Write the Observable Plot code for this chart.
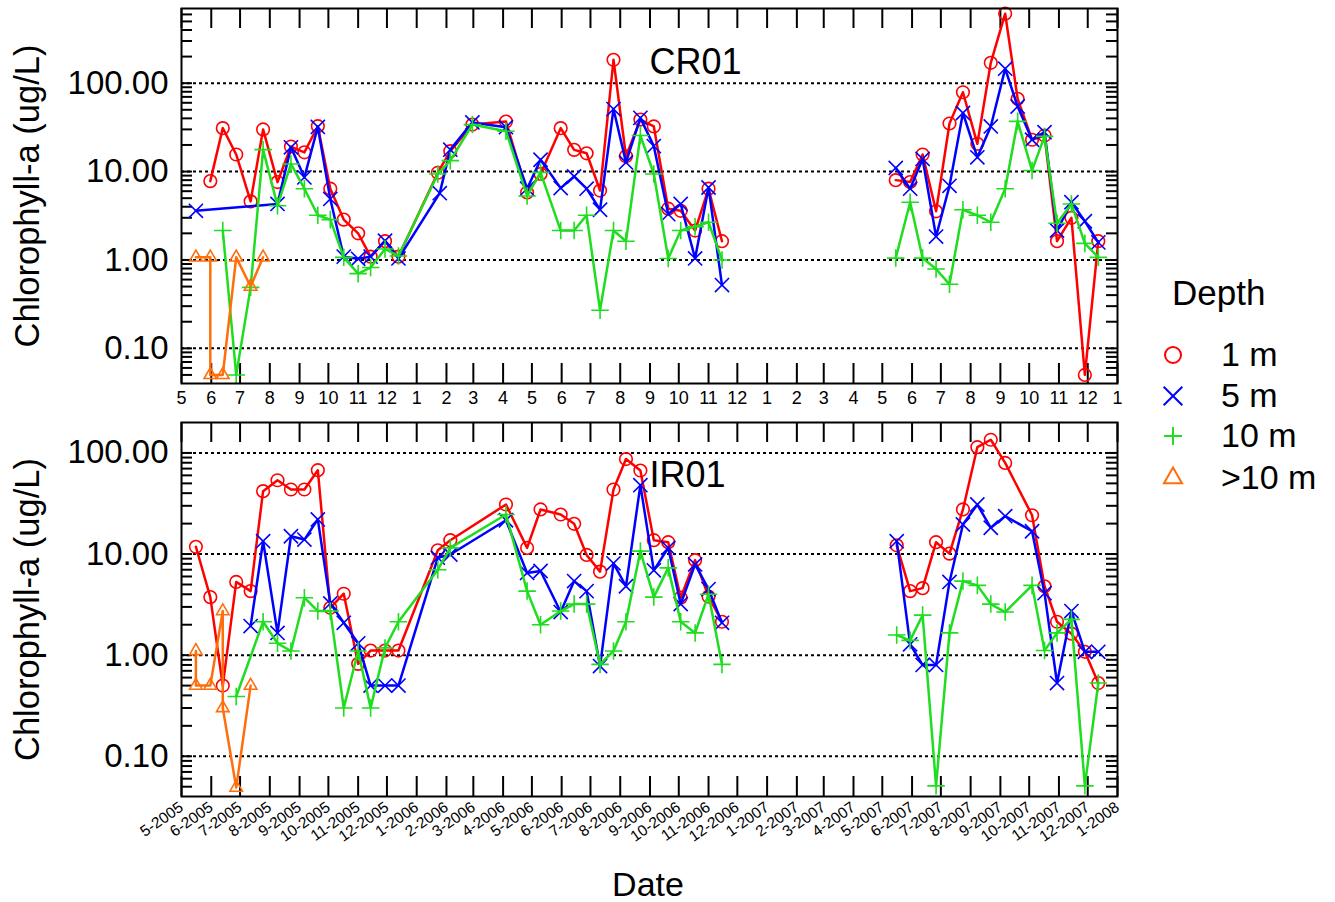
<!DOCTYPE html>
<html><head><meta charset="utf-8">
<script src="https://cdn.jsdelivr.net/npm/d3@7"></script>
<script src="https://cdn.jsdelivr.net/npm/@observablehq/plot@0.6"></script>
<style>
body{margin:0;background:#fff;font-family:"Liberation Sans",Arial,Helvetica,sans-serif;}
#wrap{position:relative;width:1335px;height:902px;overflow:hidden;background:#fff}
.panel{position:absolute;left:0}
</style></head><body><div id="wrap"></div>
<script>
// ---------- data ----------
const depthNames = ["1 m", "5 m", "10 m", ">10 m"];
const depthColors = ["#ff0000", "#0000ff", "#1fdd1f", "#ff6e0a"];
const yTickValues = [0.1, 1, 10, 100];

const cr01_1m = [["2005-05-31",7.8],["2005-06-13",31],["2005-06-27",15.6],["2005-07-12",4.6],["2005-07-25",30],["2005-08-09",7.6],["2005-08-23",19.2],["2005-09-06",16.5],["2005-09-20",32.6],["2005-10-03",6.4],["2005-10-17",2.86],["2005-11-01",2.0],["2005-11-14",1.09],["2005-11-29",1.63],["2005-12-13",1.09],["2006-01-23",9.7],["2006-02-05",17],["2006-02-28",34],["2006-04-04",36.8],["2006-04-26",5.8],["2006-05-10",9.4],["2006-05-31",31],["2006-06-14",17.6],["2006-06-27",16.1],["2006-07-11",6.1],["2006-07-25",184],["2006-08-07",14.9],["2006-08-22",38.8],["2006-09-05",32.4],["2006-09-20",3.8],["2006-10-03",3.6],["2006-10-18",2.15],["2006-11-01",6.4],["2006-11-15",1.63],["2007-05-15",8.0],["2007-05-30",7.6],["2007-06-12",15.6],["2007-06-26",3.55],["2007-07-10",35],["2007-07-24",79],["2007-08-08",20.6],["2007-08-22",170],["2007-09-06",611],["2007-09-19",66.5],["2007-10-04",22.9],["2007-10-17",25.6],["2007-10-30",1.63],["2007-11-14",3.0],["2007-11-28",0.05],["2007-12-12",1.63]];
const cr01_5m = [["2005-05-16",3.6],["2005-08-09",4.3],["2005-08-23",18.8],["2005-09-06",8.6],["2005-09-20",32],["2005-10-03",4.9],["2005-10-17",1.09],["2005-11-01",1.03],["2005-11-14",1.09],["2005-11-29",1.65],["2005-12-13",1.04],["2006-01-25",5.7],["2006-02-05",17.7],["2006-02-28",36],["2006-04-04",31.8],["2006-04-26",6.4],["2006-05-10",13.6],["2006-05-31",6.5],["2006-06-14",8.8],["2006-06-27",6.4],["2006-07-11",3.7],["2006-07-25",51],["2006-08-07",12.7],["2006-08-22",40.5],["2006-09-05",19.4],["2006-09-20",3.3],["2006-10-03",4.3],["2006-10-18",1.04],["2006-11-01",6.6],["2006-11-15",0.52],["2007-05-15",11],["2007-05-30",6.4],["2007-06-12",13.9],["2007-06-26",1.84],["2007-07-10",6.9],["2007-07-24",46],["2007-08-08",14.5],["2007-08-22",32.4],["2007-09-06",146],["2007-09-19",54.5],["2007-10-04",22.9],["2007-10-17",27.9],["2007-10-30",2.15],["2007-11-14",4.5],["2007-11-28",2.74],["2007-12-12",1.58]];
const cr01_10m = [["2005-06-13",2.15],["2005-06-27",0.05],["2005-07-12",0.49],["2005-07-25",17.7],["2005-08-09",4.1],["2005-08-23",12.2],["2005-09-06",6.4],["2005-09-20",3.2],["2005-10-03",2.86],["2005-10-17",1.07],["2005-11-01",0.70],["2005-11-14",0.82],["2005-11-29",1.33],["2005-12-13",1.11],["2006-01-23",9.4],["2006-02-05",13.3],["2006-02-28",34],["2006-04-04",28.6],["2006-04-26",5.3],["2006-05-10",9.8],["2006-05-31",2.15],["2006-06-14",2.15],["2006-06-27",3.2],["2006-07-11",0.27],["2006-07-25",2.15],["2006-08-07",1.63],["2006-08-22",25.6],["2006-09-05",9.4],["2006-09-20",1.04],["2006-10-03",2.15],["2006-10-18",2.38],["2006-11-01",2.67],["2006-11-15",1.0],["2007-05-15",1.05],["2007-05-30",4.5],["2007-06-12",1.05],["2007-06-26",0.79],["2007-07-10",0.53],["2007-07-24",3.7],["2007-08-08",3.2],["2007-08-22",2.67],["2007-09-06",6.4],["2007-09-19",37],["2007-10-04",10.3],["2007-10-17",25],["2007-10-30",2.6],["2007-11-14",4.3],["2007-11-28",1.54],["2007-12-12",1.07]];
const cr01_deep = [["2005-05-16",1.07],["2005-05-31",1.07],["2005-05-31",0.05],["2005-06-13",0.05],["2005-06-27",1.07],["2005-07-12",0.5],["2005-07-25",1.07]];

const ir01_1m = [["2005-05-16",11.8],["2005-05-31",3.75],["2005-06-13",0.50],["2005-06-27",5.3],["2005-07-12",4.3],["2005-07-25",41.9],["2005-08-09",53.7],["2005-08-23",43.5],["2005-09-06",43.5],["2005-09-20",67.5],["2005-10-03",2.94],["2005-10-17",4.05],["2005-11-01",0.82],["2005-11-14",1.11],["2005-11-29",1.11],["2005-12-13",1.11],["2006-01-23",10.9],["2006-02-05",13.7],["2006-04-04",30.9],["2006-04-26",11.5],["2006-05-10",27.6],["2006-05-31",24.6],["2006-06-14",19.9],["2006-06-27",9.8],["2006-07-11",6.7],["2006-07-25",43.5],["2006-08-07",87],["2006-08-22",67],["2006-09-05",13.7],["2006-09-20",13.1],["2006-10-03",3.7],["2006-10-18",8.7],["2006-11-01",3.8],["2006-11-15",2.14],["2007-05-16",12.2],["2007-05-30",4.3],["2007-06-12",4.6],["2007-06-26",13.1],["2007-07-10",10.1],["2007-07-24",27.6],["2007-08-08",114],["2007-08-22",135],["2007-09-06",79.7],["2007-10-04",24.2],["2007-10-17",4.8],["2007-10-30",2.14],["2007-11-14",1.63],["2007-11-28",1.08],["2007-12-12",0.53]];
const ir01_5m = [["2005-07-12",1.94],["2005-07-25",13.4],["2005-08-09",1.66],["2005-08-23",15.0],["2005-09-06",13.9],["2005-09-20",22],["2005-10-03",3.25],["2005-10-17",2.09],["2005-11-01",1.31],["2005-11-14",0.50],["2005-11-29",0.50],["2005-12-13",0.50],["2006-01-23",9.2],["2006-02-05",9.9],["2006-04-04",21.6],["2006-04-26",6.5],["2006-05-10",6.8],["2006-05-31",2.67],["2006-06-14",5.4],["2006-06-27",4.3],["2006-07-11",0.78],["2006-07-25",8.1],["2006-08-07",4.8],["2006-08-22",48],["2006-09-05",6.9],["2006-09-20",11.5],["2006-10-03",3.2],["2006-10-18",7.9],["2006-11-01",4.5],["2006-11-15",2.09],["2007-05-16",13.4],["2007-05-30",1.28],["2007-06-12",0.80],["2007-06-26",0.80],["2007-07-10",5.3],["2007-07-24",19.6],["2007-08-08",30.9],["2007-08-22",18.2],["2007-09-06",23.7],["2007-10-04",16.8],["2007-10-17",4.1],["2007-10-30",0.53],["2007-11-14",2.73],["2007-11-28",1.08],["2007-12-12",1.08]];
const ir01_10m = [["2005-06-27",0.39],["2005-07-25",2.14],["2005-08-09",1.31],["2005-08-23",1.10],["2005-09-06",3.7],["2005-09-20",2.73],["2005-10-03",2.73],["2005-10-17",0.30],["2005-11-01",1.10],["2005-11-14",0.30],["2005-11-29",1.18],["2005-12-13",2.14],["2006-01-23",7.0],["2006-02-05",11.5],["2006-04-04",24.6],["2006-04-26",4.3],["2006-05-10",2.0],["2006-05-31",2.73],["2006-06-14",3.2],["2006-06-27",3.2],["2006-07-11",0.81],["2006-07-25",1.10],["2006-08-07",2.14],["2006-08-22",10.7],["2006-09-05",3.75],["2006-09-20",7.3],["2006-10-03",2.14],["2006-10-18",1.66],["2006-11-01",4.0],["2006-11-15",0.81],["2007-05-16",1.58],["2007-05-30",1.40],["2007-06-12",2.49],["2007-06-26",0.051],["2007-07-10",1.66],["2007-07-24",5.4],["2007-08-08",4.9],["2007-08-22",3.2],["2007-09-06",2.67],["2007-10-04",4.9],["2007-10-17",1.11],["2007-10-30",1.66],["2007-11-14",2.26],["2007-11-28",0.051],["2007-12-12",0.53]];
const ir01_deep = [["2005-05-16",1.10],["2005-05-16",0.50],["2005-05-31",0.50],["2005-06-13",2.73],["2005-06-13",0.30],["2005-06-27",0.049],["2005-07-12",0.50]];

// ---------- helpers ----------
const FONT = '"Liberation Sans", Arial, Helvetica, sans-serif';
const xDomain = [new Date("2005-05-01"), new Date("2008-01-01")];
const months = d3.utcMonth.range(xDomain[0], new Date("2008-01-02"));
const FRAME_W = 936;
const xAt = px => new Date(+xDomain[0] + (xDomain[1] - xDomain[0]) * px / FRAME_W);
const toRows = arr => arr.map(([d, v]) => ({date: new Date(d), value: v, seg: d < "2007" ? 0 : 1}));
const symbols = ["circle", "times", "plus", "triangle2"];
const symR = [6.3, 6.5, 5.7, 6];

function makePanel(cfg) {
  const H = cfg.height - cfg.marginTop - cfg.marginBottom;
  const [y0, y1] = cfg.yDomain;
  const yAt = px => y0 * Math.pow(y1 / y0, px / H);
  const minor = [];
  for (let k = -2; k <= 3; k++) for (let m = 1; m <= 9; m++) {
    const v = m * Math.pow(10, k);
    if (v > y0 * 1.001 && v < y1 * 0.995) minor.push(v);
  }
  const marks = [
    Plot.ruleY(yTickValues, {y: d => d, stroke: "#000", strokeWidth: 2, strokeDasharray: "3,3"}),
    Plot.ruleX(months, {x: d => d, y1: () => y0, y2: () => yAt(20), stroke: "#000", strokeWidth: 2}),
    Plot.ruleX(months, {x: d => d, y1: () => yAt(H - 20), y2: () => y1, stroke: "#000", strokeWidth: 2}),
    Plot.ruleY(minor, {y: d => d, x1: () => xDomain[0], x2: () => xAt(11), stroke: "#000", strokeWidth: 2}),
    Plot.ruleY(minor, {y: d => d, x1: () => xAt(FRAME_W - 11), x2: () => xDomain[1], stroke: "#000", strokeWidth: 2})
  ];
  cfg.series.forEach((s, i) => {
    const rows = toRows(s);
    marks.push(Plot.line(rows, {x: "date", y: "value", z: "seg", stroke: depthColors[i], strokeWidth: 2.5}));
    marks.push(Plot.dot(rows, {x: "date", y: "value", symbol: symbols[i], r: symR[i], stroke: depthColors[i], strokeWidth: 1.6, fill: "none"}));
  });
  marks.push(
    Plot.frame({stroke: "#000", strokeWidth: 2}),
    Plot.axisY({ticks: yTickValues, tickFormat: d3.format(".2f"), tickSize: 0, tickPadding: 13, fontSize: 33, label: null}),
    cfg.bottomAxis
      ? Plot.axisX({ticks: months, tickFormat: d3.utcFormat("%-m-%Y"), tickSize: 0, tickPadding: 9, tickRotate: -35, fontSize: 15.5, label: null})
      : Plot.axisX({ticks: months, tickFormat: d3.utcFormat("%-m"), tickSize: 0, tickPadding: 8, fontSize: 18, label: null}),
    Plot.text([cfg.name], {frameAnchor: "top-left", dx: 468, dy: cfg.nameDy, textAnchor: "start", lineAnchor: "middle", fontSize: 36}),
    Plot.text(["Chlorophyll-a (ug/L)"], {frameAnchor: "left", dx: -154, rotate: -90, textAnchor: "middle", lineAnchor: "middle", fontSize: 34.5})
  );
  const svg = Plot.plot({
    width: 1130, height: cfg.height,
    marginLeft: 181, marginRight: 13, marginTop: cfg.marginTop, marginBottom: cfg.marginBottom,
    x: {type: "utc", domain: xDomain},
    y: {type: "log", domain: cfg.yDomain},
    style: {fontFamily: FONT, color: "#000", background: "transparent", overflow: "visible"},
    marks
  });
  svg.classList.add("panel");
  svg.style.top = cfg.top + "px";
  return svg;
}

const wrap = document.getElementById("wrap");
wrap.appendChild(makePanel({name: "CR01", series: [cr01_1m, cr01_5m, cr01_10m, cr01_deep], yDomain: [0.04, 700], top: 0, height: 410, marginTop: 8, marginBottom: 27, nameDy: 54, bottomAxis: false}));
wrap.appendChild(makePanel({name: "IR01", series: [ir01_1m, ir01_5m, ir01_10m, ir01_deep], yDomain: [0.04, 200], top: 410, height: 460, marginTop: 12, marginBottom: 74, nameDy: 53, bottomAxis: true}));

// ---------- overlay: x title + legend ----------
const ov = d3.create("svg").attr("width", 1335).attr("height", 902)
  .style("position", "absolute").style("left", "0px").style("top", "0px")
  .style("font-family", FONT);
ov.append("text").attr("x", 648).attr("y", 896).attr("text-anchor", "middle").attr("font-size", 34).text("Date");
ov.append("text").attr("x", 1172).attr("y", 305).attr("font-size", 35).text("Depth");
const legSym = [d3.symbolCircle, d3.symbolTimes, d3.symbolPlus, d3.symbolTriangle2];
const legSize = [201, 229, 108, 232];
const legBase = [366, 407, 447, 489];
depthNames.forEach((n, i) => {
  ov.append("path").attr("d", d3.symbol(legSym[i], legSize[i])())
    .attr("transform", `translate(1173,${legBase[i] - 11})`)
    .attr("fill", "none").attr("stroke", depthColors[i]).attr("stroke-width", 2);
  ov.append("text").attr("x", 1221).attr("y", legBase[i]).attr("font-size", 34).text(n);
});
wrap.appendChild(ov.node());
</script></body></html>
